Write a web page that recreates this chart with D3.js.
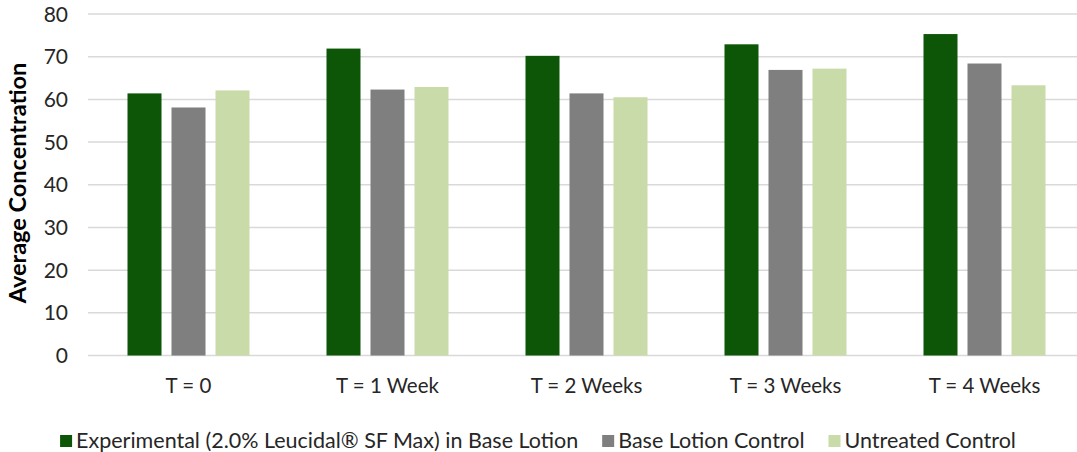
<!DOCTYPE html>
<html>
<head>
<meta charset="utf-8">
<script src="https://cdn.jsdelivr.net/npm/d3@7"></script>
<style>
  body { margin: 0; background: #fff; }
  text { font-family: Lato, "Open Sans", sans-serif; fill: #262626; }
</style>
</head>
<body>
<div id="chart"></div>
<script>
var categories = ["T = 0", "T = 1 Week", "T = 2 Weeks", "T = 3 Weeks", "T = 4 Weeks"];
var seriesNames = ["Experimental (2.0% Leucidal\u00AE SF Max) in Base Lotion", "Base Lotion Control", "Untreated Control"];
var experimental = [61.4, 71.9, 70.2, 72.9, 75.3];
var baseLotion = [58.1, 62.3, 61.4, 66.9, 68.4];
var untreated = [62.1, 62.9, 60.5, 67.2, 63.3];
var yTicks = [0, 10, 20, 30, 40, 50, 60, 70, 80];
var colors = ["#0d5507", "#7f7f7f", "#c9dba8"];

var w = 1077, h = 452;
var series = [experimental, baseLotion, untreated];

var svg = d3.select("#chart").append("svg")
    .attr("width", w)
    .attr("height", h);

var x = d3.scaleBand()
    .domain(categories)
    .range([89, 1084])
    .paddingInner(0)
    .paddingOuter(0);

var y = d3.scaleLinear()
    .domain([0, 80])
    .range([355.5, 14]);

// gridlines
svg.selectAll("line.grid")
   .data(yTicks)
   .enter()
   .append("line")
   .attr("class", "grid")
   .attr("x1", 88)
   .attr("x2", 1077)
   .attr("y1", function(d) { return y(d); })
   .attr("y2", function(d) { return y(d); })
   .style("stroke", "#d9d9d9")
   .style("stroke-width", 1.5);

// y tick labels
svg.selectAll("text.ytick")
   .data(yTicks)
   .enter()
   .append("text")
   .attr("class", "ytick")
   .attr("x", 68)
   .attr("y", function(d) { return y(d); })
   .attr("dy", "0.36em")
   .attr("text-anchor", "end")
   .style("font-size", "21px")
   .text(function(d) { return d; });

// bars
var barW = 34, gap = 10;
series.forEach(function(vals, s) {
    svg.selectAll("rect.s" + s)
       .data(vals)
       .enter()
       .append("rect")
       .attr("class", "s" + s)
       .attr("x", function(d, i) {
           var c = x(categories[i]) + x.bandwidth() / 2;
           return c - barW * 1.5 - gap + s * (barW + gap);
       })
       .attr("y", function(d) { return y(d); })
       .attr("width", barW)
       .attr("height", function(d) { return y(0) - y(d); })
       .style("fill", colors[s]);
});

// x labels
svg.selectAll("text.xlab")
   .data(categories)
   .enter()
   .append("text")
   .attr("class", "xlab")
   .attr("x", function(d) { return x(d) + x.bandwidth() / 2; })
   .attr("y", 393)
   .attr("text-anchor", "middle")
   .style("font-size", "20.5px")
   .text(function(d) { return d; });

// y axis title
svg.append("text")
   .attr("transform", "translate(26,183) rotate(-90)")
   .attr("text-anchor", "middle")
   .style("font-size", "23.5px")
   .style("font-weight", "bold")
   .style("fill", "#000")
   .text("Average Concentration");

// legend
var legend = svg.append("g");
var lx = 0;
seriesNames.forEach(function(name, i) {
    var g = legend.append("g").attr("transform", "translate(" + lx + ",0)");
    g.append("rect")
     .attr("x", 0).attr("y", 435)
     .attr("width", 12).attr("height", 12)
     .style("fill", colors[i]);
    var t = g.append("text")
     .attr("x", 16).attr("y", 447.5)
     .style("font-size", "21.5px")
     .text(name);
    lx += 16 + t.node().getComputedTextLength() + 24;
});
var legW = lx - 24;
legend.attr("transform", "translate(" + (538 - legW / 2) + ",0)");
</script>
</body>
</html>
